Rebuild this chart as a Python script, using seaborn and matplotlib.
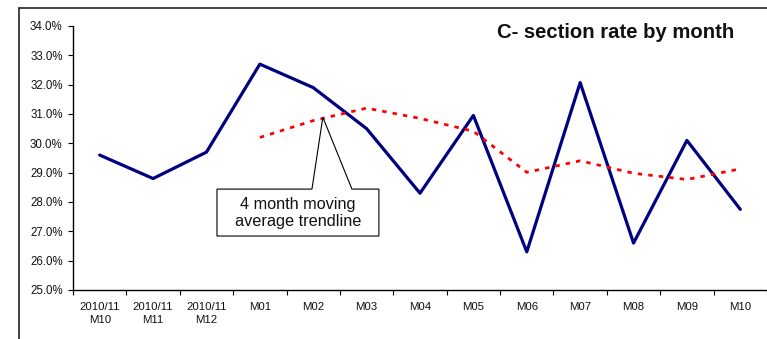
import matplotlib
matplotlib.use("Agg")
import matplotlib.pyplot as plt
from matplotlib.patches import Polygon
from matplotlib.lines import Line2D
import numpy as np
import pandas as pd
import seaborn as sns

# Monthly C-section rate (%)
months = ["2010/11\nM10", "2010/11\nM11", "2010/11\nM12", "M01", "M02", "M03",
          "M04", "M05", "M06", "M07", "M08", "M09", "M10"]
rate = [29.6, 28.8, 29.7, 32.7, 31.9, 30.5, 28.3, 30.95, 26.3, 32.07, 26.6, 30.1, 27.75]
window = 4

title = "C- section rate by month"
callout = "4 month moving\naverage trendline"

sns.set_theme(style="white")
plt.rcParams["font.family"] = ["Liberation Sans", "DejaVu Sans"]

df = pd.DataFrame({"pos": np.arange(len(months)), "rate": rate})
df["trend"] = df["rate"].rolling(window).mean()

fig = plt.figure(figsize=(7.67, 3.39), dpi=100)
ax = fig.add_axes([73 / 767, 1 - 290 / 339, 1 - 73 / 767, (290 - 26) / 339])

sns.lineplot(data=df, x="pos", y="rate", ax=ax, color="#000080", linewidth=2.3,
             zorder=3, legend=False)
sns.lineplot(data=df.dropna(), x="pos", y="trend", ax=ax, color="#ff0000",
             linewidth=2.0, dashes=False, zorder=4, legend=False)
ax.lines[-1].set_linestyle((0, (1.6, 2.2)))

ax.set_xlim(-0.5, len(months) - 0.5)
ax.set_ylim(25, 34)
ax.set_xlabel("")
ax.set_ylabel("")

yt = np.arange(25, 34.01, 1.0)
ax.set_yticks(yt)
ax.set_yticklabels([f"{v:.1f}%" for v in yt])
ax.set_xticks(df["pos"])
ax.set_xticklabels(months, linespacing=1.45)
ax.set_xticks(np.arange(-0.5, len(months), 1.0), minor=True)

ax.tick_params(axis="y", which="major", direction="out", length=3.5, width=0.8,
               color="black", labelsize=8.3, labelcolor="#111111", pad=4, left=True)
ax.tick_params(axis="x", which="major", length=0, labelsize=8.2,
               labelcolor="#111111", pad=8.5)
ax.tick_params(axis="x", which="minor", direction="out", length=3.5, width=0.8,
               color="black", bottom=True)

for s in ("top", "right"):
    ax.spines[s].set_visible(False)
for s in ("left", "bottom"):
    ax.spines[s].set_color("black")
    ax.spines[s].set_linewidth(1.0)

# Callout box with a wedge pointing at the trendline
tip = (4.18, 30.89)
bx0, bx1, by0, by1 = 2.197, 5.23, 26.84, 28.44
wedge = (3.976, 4.725)
poly = Polygon([(bx0, by1), (wedge[0], by1), tip, (wedge[1], by1), (bx1, by1),
                (bx1, by0), (bx0, by0)], closed=True, facecolor="white",
               edgecolor="black", linewidth=0.8, zorder=5, clip_on=False)
ax.add_patch(poly)
ax.text((bx0 + bx1) / 2, (by0 + by1) / 2 - 0.02, callout, ha="center", va="center",
        fontsize=11.7, color="#111111", zorder=6, linespacing=1.2)

fig.text(734 / 767, 1 - 33 / 339, title, ha="right", va="center",
         fontsize=14.6, fontweight="bold", color="#111111")

# Outer chart frame (left and top edges)
fig.add_artist(Line2D([19 / 767, 19 / 767], [0, 1 - 7.5 / 339],
                      transform=fig.transFigure, color="#222222", linewidth=1.2))
fig.add_artist(Line2D([19 / 767, 1], [1 - 7.5 / 339, 1 - 7.5 / 339],
                      transform=fig.transFigure, color="#222222", linewidth=1.2))

fig.savefig("out.png", dpi=100, facecolor="white")
